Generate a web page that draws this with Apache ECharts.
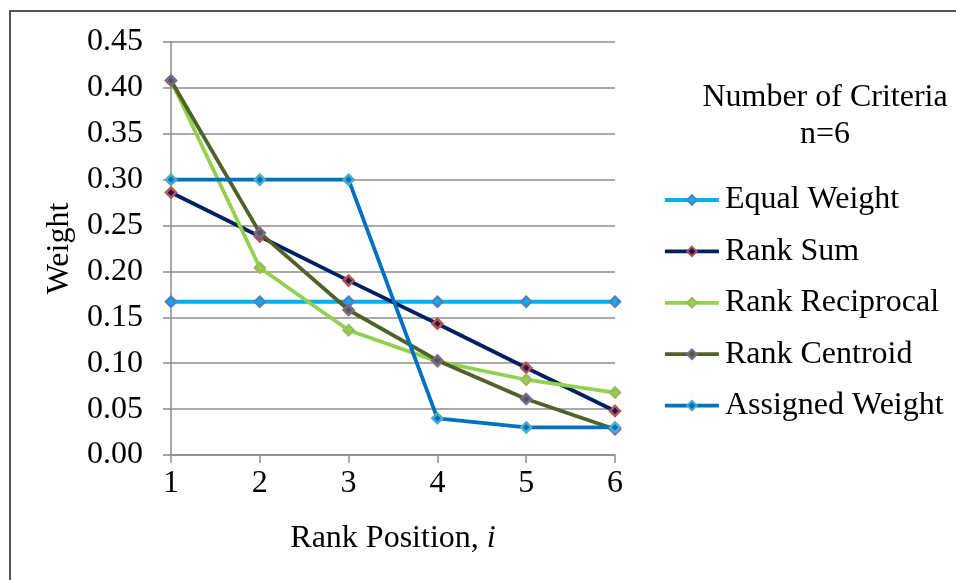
<!DOCTYPE html>
<html>
<head>
<meta charset="utf-8">
<script src="https://cdn.jsdelivr.net/npm/echarts@6/dist/echarts.min.js"></script>
<style>
  html, body { margin: 0; padding: 0; background: #fff; }
  #chart { width: 956px; height: 580px; }
</style>
</head>
<body>
<div id="chart"></div>
<script>
// Rank positions and the weight each method gives them (n = 6 criteria)
var rankPositions = [1, 2, 3, 4, 5, 6];
var equalWeight = [0.167, 0.167, 0.167, 0.167, 0.167, 0.167];
var rankSum = [0.286, 0.238, 0.190, 0.143, 0.095, 0.048];
var rankReciprocal = [0.408, 0.204, 0.136, 0.102, 0.082, 0.068];
var rankCentroid = [0.408, 0.242, 0.158, 0.103, 0.061, 0.028];
var assignedWeight = [0.30, 0.30, 0.30, 0.04, 0.03, 0.03];

var seriesNames = ['Equal Weight', 'Rank Sum', 'Rank Reciprocal', 'Rank Centroid', 'Assigned Weight'];
var seriesValues = [equalWeight, rankSum, rankReciprocal, rankCentroid, assignedWeight];
var lineColors = ['#00B0F0', '#002060', '#92D050', '#4F6228', '#0070C0'];
var markerColors = ['#4F81BD', '#C0504D', '#9BBB59', '#8064A2', '#4BACC6'];

var serif = '"Liberation Serif", "Times New Roman", serif';
var fs = 32;
var chart = echarts.init(document.getElementById('chart'));

var series = seriesNames.map(function (name, k) {
  return {
    name: name,
    type: 'line',
    data: rankPositions.map(function (r, j) { return [r, seriesValues[k][j]]; }),
    symbol: 'diamond',
    symbolSize: 10,
    lineStyle: { color: lineColors[k], width: 3.8 },
    itemStyle: { color: lineColors[k], borderColor: markerColors[k], borderWidth: 2.5 },
    emphasis: { disabled: true },
    z: 2 + k
  };
});

chart.setOption({
  animation: false,
  backgroundColor: '#fff',
  textStyle: { fontFamily: serif },
  graphic: [{
    type: 'rect',
    shape: { x: 10, y: 11, width: 1000, height: 700 },
    style: { fill: 'none', stroke: '#555', lineWidth: 2 },
    silent: true
  }],
  title: {
    text: 'Number of Criteria\nn=6',
    left: 820,
    top: 74,
    textAlign: 'center',
    textStyle: { fontFamily: serif, fontSize: fs, fontWeight: 'normal', color: '#000', lineHeight: 37, align: 'center' }
  },
  legend: {
    orient: 'vertical',
    left: 663,
    top: 182,
    padding: 0,
    itemWidth: 54,
    itemHeight: 12,
    itemGap: 15.4,
    data: seriesNames,
    lineStyle: { width: 3.8 },
    textStyle: { fontFamily: serif, fontSize: fs, color: '#000', lineHeight: 36, padding: [0, 0, 0, 1] }
  },
  grid: { left: 171, right: 341, top: 42, bottom: 125, containLabel: false },
  xAxis: {
    type: 'value',
    min: 1,
    max: 6,
    interval: 1,
    name: 'Rank Position, {it|i}',
    nameLocation: 'middle',
    nameGap: 68,
    nameTextStyle: {
      fontFamily: serif, fontSize: fs, color: '#000',
      rich: { it: { fontFamily: serif, fontSize: fs, fontStyle: 'italic', color: '#000' } }
    },
    axisLine: { show: true, lineStyle: { color: '#8c8c8c', width: 1.5 } },
    axisTick: { show: true, length: 8, lineStyle: { color: '#8c8c8c', width: 1.5 } },
    splitLine: { show: false },
    axisLabel: { fontFamily: serif, fontSize: fs, color: '#000', margin: 13 }
  },
  yAxis: {
    type: 'value',
    min: 0,
    max: 0.45,
    interval: 0.05,
    name: 'Weight',
    nameLocation: 'middle',
    nameGap: 95,
    nameRotate: 90,
    nameTextStyle: { fontFamily: serif, fontSize: fs, color: '#000' },
    axisLine: { show: true, lineStyle: { color: '#8c8c8c', width: 1.5 } },
    axisTick: { show: true, length: 8, lineStyle: { color: '#8c8c8c', width: 1.5 } },
    splitLine: { show: true, lineStyle: { color: '#8c8c8c', width: 1.5 } },
    axisLabel: {
      fontFamily: serif, fontSize: fs, color: '#000', margin: 28,
      formatter: function (v) { return v.toFixed(2); }
    }
  },
  series: series
});
</script>
</body>
</html>
